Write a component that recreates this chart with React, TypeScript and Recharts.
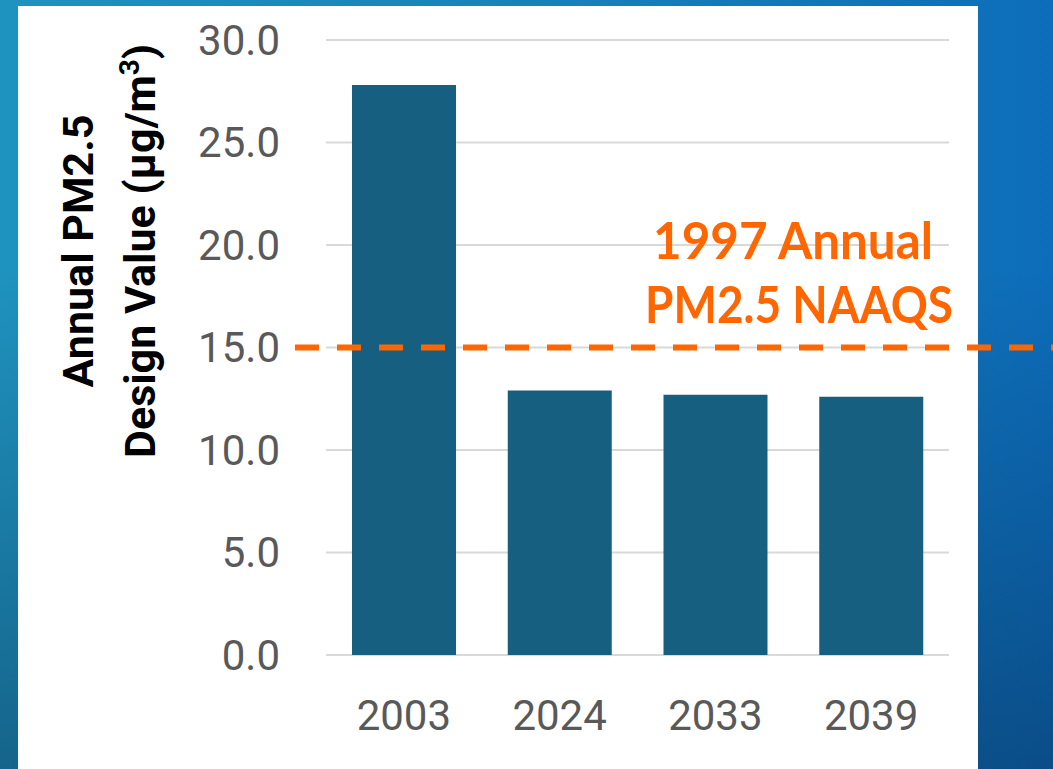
import React from 'react';
import { BarChart, Bar, XAxis, YAxis, CartesianGrid, ReferenceLine } from 'recharts';

const years: string[] = ['2003', '2024', '2033', '2039'];
const designValues: number[] = [27.8, 12.9, 12.7, 12.6];
const yTicks: number[] = [0, 5, 10, 15, 20, 25, 30];
const naaqsLevel = 15;
const naaqsLabelLines: string[] = ['1997 Annual', 'PM2.5 NAAQS'];
const yTitleLine1 = 'Annual PM2.5';
const yTitleLine2 = 'Design Value (µg/m';
const yTitleSup = '3';
const yTitleEnd = ')';

const data = years.map((year, i) => ({ year, value: designValues[i] }));

const W = 1053;
const H = 769;
const tickFont = "Roboto, 'Liberation Sans', Arial, sans-serif";

const YTitle = (props: any) => {
  const vb = props.viewBox || { x: 226, y: 40, width: 100, height: 615 };
  const cy = vb.y + 211;
  const x1 = 93;
  const x2 = 155;
  const common = {
    fontFamily: tickFont,
    fontWeight: 700,
    fontSize: 43,
    fill: '#000000',
    textAnchor: 'middle' as const,
  };
  return (
    <g>
      <text {...common} x={x1} y={cy} transform={`rotate(-90, ${x1}, ${cy})`}>
        {yTitleLine1}
      </text>
      <text {...common} x={x2} y={cy} transform={`rotate(-90, ${x2}, ${cy})`}>
        {yTitleLine2}
        <tspan fontSize={28} dy={-16}>{yTitleSup}</tspan>
        <tspan dy={16}>{yTitleEnd}</tspan>
      </text>
    </g>
  );
};

const NaaqsLabel = (props: any) => {
  const vb = props.viewBox || { x: 326, y: 347, width: 623 };
  const cx = vb.x + vb.width - 152;
  const common = {
    fontFamily: "Lato, 'Open Sans', sans-serif",
    fontWeight: 700,
    fontSize: 51,
    fill: '#FF6600',
    textAnchor: 'middle' as const,
    lengthAdjust: 'spacingAndGlyphs' as const,
  };
  return (
    <g>
      <text {...common} x={cx - 4} y={vb.y - 89} textLength={280}>
        {naaqsLabelLines[0]}
      </text>
      <text {...common} x={cx + 2} y={vb.y - 25} textLength={308}>
        {naaqsLabelLines[1]}
      </text>
    </g>
  );
};

const NaaqsLine = (p: any) => (
  <line
    x1={p.x1 - 31}
    y1={p.y1}
    x2={W + 10}
    y2={p.y2}
    stroke="#FF6600"
    strokeWidth={6}
    strokeDasharray="24 18"
  />
);

export default function App() {
  return (
    <div
      style={{
        position: 'fixed',
        left: 0,
        top: 0,
        width: W,
        height: H,
        overflow: 'hidden',
        background:
          'linear-gradient(to bottom, rgba(0,0,0,0) 0%, rgba(0,0,0,0) 35%, rgba(5,25,55,0.38) 100%), linear-gradient(to right, #1f93bf 0%, #1782b8 50%, #0d6dba 100%)',
      }}
    >
      <div
        style={{
          position: 'absolute',
          left: 18,
          top: 6,
          width: 960,
          height: H - 6,
          background: '#ffffff',
        }}
      />
      <div style={{ position: 'absolute', left: 0, top: 0 }}>
        <BarChart
          width={W}
          height={H}
          data={data}
          margin={{ top: 40, right: 104, bottom: 14, left: 226 }}
        >
          <CartesianGrid vertical={false} stroke="#d9d9d9" strokeWidth={2} />
          <XAxis
            dataKey="year"
            height={100}
            axisLine={false}
            tickLine={false}
            tickMargin={39}
            tick={{ fontFamily: tickFont, fontSize: 42, fill: '#595959' }}
          />
          <YAxis
            width={100}
            domain={[0, 30]}
            ticks={yTicks}
            axisLine={false}
            tickLine={false}
            tickMargin={40}
            tickFormatter={(v: number) => v.toFixed(1)}
            tick={{ fontFamily: tickFont, fontSize: 42, fill: '#595959' }}
            label={<YTitle />}
          />
          <Bar dataKey="value" fill="#175f81" barSize={104} isAnimationActive={false} />
          <ReferenceLine
            y={naaqsLevel}
            ifOverflow="visible"
            shape={NaaqsLine}
            label={<NaaqsLabel />}
          />
        </BarChart>
      </div>
    </div>
  );
}
